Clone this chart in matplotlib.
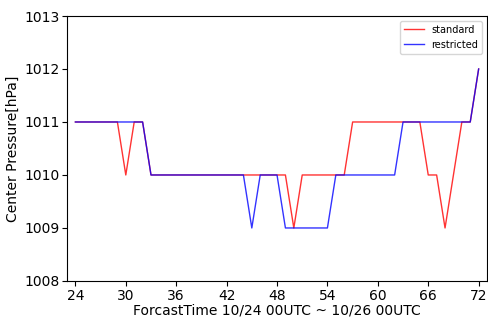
import numpy as np
import matplotlib
matplotlib.use("Agg")
import matplotlib.pyplot as plt

# Forecast hours and center pressure (hPa)
hours = list(range(24, 73))
standard = ([1011] * 6 + [1010] + [1011] * 2          # 24-32
            + [1010] * 17 + [1009] + [1010] * 6      # 33-56
            + [1011] * 9 + [1010, 1010, 1009, 1010]  # 57-69
            + [1011, 1011, 1012])                    # 70-72
restricted = ([1011] * 9                             # 24-32
              + [1010] * 12 + [1009] + [1010] * 3    # 33-48
              + [1009] * 6 + [1010] * 8              # 49-62
              + [1011] * 9 + [1012])                 # 63-72
xticks = list(range(24, 73, 6))

fig = plt.figure(figsize=(4.89, 3.2), dpi=100)
ax = fig.add_axes([0.137, 0.122, 0.859, 0.828])
ax.plot(hours, standard, color='red', alpha=0.8, lw=1.0, label='standard')
ax.plot(hours, restricted, color='blue', alpha=0.8, lw=1.0, label='restricted')

ax.set_xlim(23, 73)
ax.set_ylim(1008, 1013)
ax.set_xticks(xticks)
ax.set_yticks(range(1008, 1014))
ax.tick_params(labelsize=10, pad=2)
ax.set_xlabel("ForcastTime 10/24 00UTC ~ 10/26 00UTC", fontsize=10, labelpad=1)
ax.set_ylabel("Center Pressure[hPa]", fontsize=10, labelpad=3)
ax.legend(loc='upper right', fontsize=7)

fig.savefig("out.png", dpi=100)
